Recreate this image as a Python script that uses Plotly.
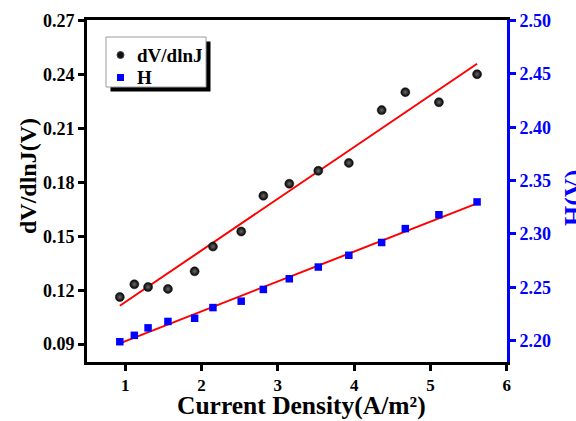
import numpy as np
import plotly.graph_objects as go

# Data
current_density = [0.93, 1.12, 1.30, 1.56, 1.91, 2.15, 2.52, 2.81, 3.15, 3.53, 3.93, 4.36, 4.67, 5.11, 5.61]
dv_dlnj = [0.1162, 0.1233, 0.1218, 0.1207, 0.1305, 0.1443, 0.1527, 0.1726, 0.1793, 0.1865,
           0.1909, 0.2203, 0.2303, 0.2247, 0.2403]
h_vals = [2.199, 2.205, 2.212, 2.218, 2.221, 2.231, 2.237, 2.248, 2.258, 2.269,
          2.280, 2.292, 2.305, 2.318, 2.330]
x_ticks = [1, 2, 3, 4, 5, 6]
y1_ticks = [0.09, 0.12, 0.15, 0.18, 0.21, 0.24, 0.27]
y2_ticks = [2.20, 2.25, 2.30, 2.35, 2.40, 2.45, 2.50]
series_names = ["dV/dlnJ", "H"]

FONT = "Liberation Serif, Times New Roman, serif"
BLUE = "#0000ff"

x = np.array(current_density)
xf = np.array([x.min(), x.max()])
p1 = np.polyfit(x, dv_dlnj, 1)
p2 = np.polyfit(x, h_vals, 1)

fig = go.Figure()
fig.add_trace(go.Scatter(x=xf, y=np.polyval(p1, xf), mode="lines",
                         line=dict(color="red", width=2), showlegend=False))
fig.add_trace(go.Scatter(x=xf, y=np.polyval(p2, xf), mode="lines", yaxis="y2",
                         line=dict(color="red", width=2), showlegend=False))
fig.add_trace(go.Scatter(x=current_density, y=dv_dlnj, mode="markers", name=series_names[0],
                         showlegend=False,
                         marker=dict(symbol="circle", size=9, color="#000000",
                                     gradient=dict(type="radial", color="#6a6a6a"),
                                     line=dict(color="#111111", width=0.5))))
fig.add_trace(go.Scatter(x=current_density, y=h_vals, mode="markers", name=series_names[1],
                         yaxis="y2", showlegend=False,
                         marker=dict(symbol="square", size=7.5, color=BLUE, line=dict(width=0))))

L, R, T, B = 87, 507, 20, 362
W, H = 576, 421

def px(xp):
    return (xp - L) / (R - L)

def py(yp):
    return (B - yp) / (B - T)

def prect(x0, y0, x1, y1, **kw):
    fig.add_shape(type="rect", xref="paper", yref="paper",
                  x0=px(x0), x1=px(x1), y0=py(y1), y1=py(y0), **kw)

# manual legend: shadow, box, symbols, labels
prect(110.5, 41.5, 210.5, 91.5, fillcolor="black", line=dict(width=0))
prect(106, 37, 206, 87, fillcolor="white", line=dict(color="#9a9a9a", width=1))
fig.add_shape(type="circle", xref="paper", yref="paper",
              x0=px(117), x1=px(124), y0=py(58.5), y1=py(51.5),
              fillcolor="#111111", line=dict(color="#444444", width=1))
prect(117, 74, 124, 81, fillcolor=BLUE, line=dict(width=0))
fig.add_annotation(text=f"<b>{series_names[0]}</b>", xref="paper", yref="paper",
                   x=px(135), y=py(55), xanchor="left", yanchor="middle", showarrow=False,
                   font=dict(family=FONT, size=19, color="black"))
fig.add_annotation(text=f"<b>{series_names[1]}</b>", xref="paper", yref="paper",
                   x=px(135), y=py(77.5), xanchor="left", yanchor="middle", showarrow=False,
                   font=dict(family=FONT, size=19, color="black"))

tf_black = dict(family=FONT, size=18, color="black")
fig.update_layout(
    width=W, height=H,
    margin=dict(l=L, r=W - R, t=T, b=H - B),
    paper_bgcolor="white", plot_bgcolor="white",
    font=dict(family=FONT, size=18, color="black"),
    showlegend=False,
    xaxis=dict(range=[0.5, 6.002], tickvals=x_ticks, ticktext=[f"<b>{v}</b>" for v in x_ticks],
               ticks="outside", ticklen=6, tickwidth=3,
               tickcolor="black", showline=True, linecolor="black", linewidth=3, mirror=True,
               showgrid=False, zeroline=False, tickfont=dict(family=FONT, size=17, color="black")),
    yaxis=dict(range=[0.08, 0.2705], tickvals=y1_ticks, ticktext=[f"<b>{v:.2f}</b>" for v in y1_ticks],
               ticks="outside", ticklen=6, tickwidth=3, tickcolor="black", showline=True,
               linecolor="black", linewidth=3, showgrid=False, zeroline=False, tickfont=tf_black),
    yaxis2=dict(range=[2.18, 2.5005], tickvals=y2_ticks, ticktext=[f"<b>{v:.2f}</b>" for v in y2_ticks],
                overlaying="y", side="right", ticks="outside", ticklen=6, tickwidth=3, tickcolor=BLUE,
                showline=True, linecolor=BLUE, linewidth=3, showgrid=False, zeroline=False,
                tickfont=dict(family=FONT, size=18, color=BLUE)),
)

fig.add_annotation(text="<b>dV/dlnJ(V)</b>", xref="paper", yref="paper", x=px(28), y=py(176),
                   xanchor="center", yanchor="middle", showarrow=False, textangle=-90,
                   font=dict(family=FONT, size=24, color="black"))
fig.add_annotation(text="<b>Current Density(A/m²)</b>", xref="paper", yref="paper",
                   x=px(301), y=py(405), xanchor="center", yanchor="middle", showarrow=False,
                   font=dict(family=FONT, size=25.5, color="black"))
fig.add_annotation(text="<b>H(V)</b>", xref="paper", yref="paper", x=px(573), y=py(198),
                   xanchor="center", yanchor="middle", showarrow=False, textangle=-90,
                   font=dict(family=FONT, size=26, color=BLUE))

fig.write_html("out.html")
